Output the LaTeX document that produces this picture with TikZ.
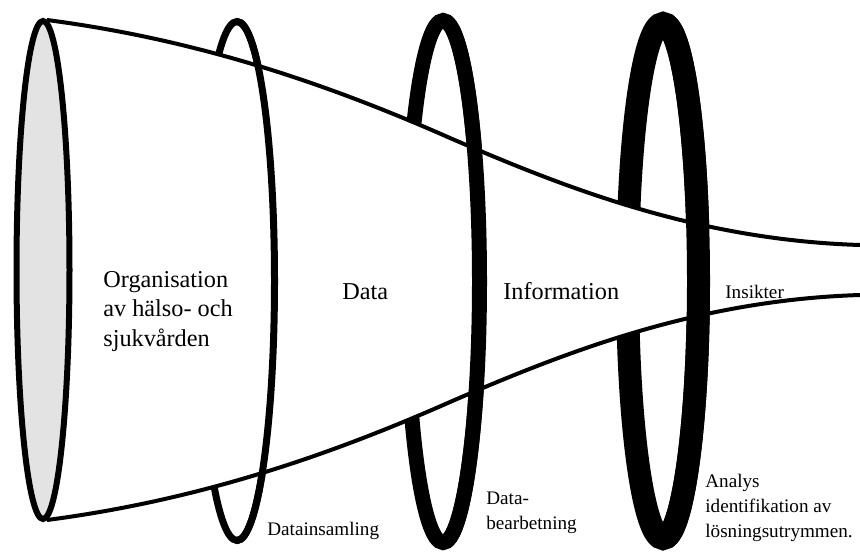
\documentclass[tikz,border=0pt]{standalone}
\usepackage{fontspec}
\setmainfont{Liberation Serif}
\usetikzlibrary{positioning}

\tikzset{
  edge/.style={line width=0.8mm},
  rim/.style={line width=1.2mm, fill=black!11},
  bigtext/.style={font=\fontsize{13.8}{16.7}\selectfont, inner sep=0pt, align=left, anchor=base west},
  smalltext/.style={font=\fontsize{10.9}{14.2}\selectfont, inner sep=0pt, align=left, anchor=base west}
}

\begin{document}
\begin{tikzpicture}[x=0.2mm, y=-0.2mm]
	%%%%% START %%%%%
	\useasboundingbox (0,0) rectangle (860,552);
	
	% rings, the part behind the funnel
	\draw[line width=1.4mm] (237,281) ellipse [x radius=37.5, y radius=259.5];
	\draw[line width=3mm] (443,281.5) ellipse [x radius=36.5, y radius=261];
	\draw[line width=4.6mm] (663,281) ellipse [x radius=35.5, y radius=257.5];
	
	% funnel
	\fill[white] (47,20) .. controls (200,40) and (330,85) .. (450,138) .. controls (570,190) and (700,240) .. (860,245) -- (860,295) .. controls (700,300) and (570,350) .. (450,402) .. controls (330,455) and (200,500) .. (47,520) -- cycle;
	\draw[edge] (47,20) .. controls (200,40) and (330,85) .. (450,138) .. controls (570,190) and (700,240) .. (860,245);
	\draw[edge] (47,520) .. controls (200,500) and (330,455) .. (450,402) .. controls (570,350) and (700,300) .. (860,295);
	
	\draw[rim] (43,270) ellipse [x radius=26.5, y radius=249];
	
	% rings, the part in front of the funnel
	\draw[line width=1.4mm] (237,21.5) arc [start angle=-90, end angle=90, x radius=37.5, y radius=259.5];
	\draw[line width=3mm] (443,20.5) arc [start angle=-90, end angle=90, x radius=36.5, y radius=261];
	\draw[line width=4.6mm] (663,23.5) arc [start angle=-90, end angle=90, x radius=35.5, y radius=257.5];
	
	% labels (multi-line nodes sit on their last line)
	\node[bigtext] (org) at (103,346) {Organisation\\av hälso- och\\sjukvården};
	\node[bigtext] (data) at (342,299) {Data};
	\node[bigtext] (info) at (503,299) {Information};
	\node[smalltext] (insikt) at (725,298) {Insikter};
	
	\node[smalltext] (insaml) at (267,535) {Datainsamling};
	\node[smalltext] (bearb) at (486,529) {Data-\\bearbetning};
	\node[smalltext] (analys) at (705,537) {Analys\\identifikation av\\lösningsutrymmen.};
	
	%%%%% END %%%%%
\end{tikzpicture}
\end{document}
